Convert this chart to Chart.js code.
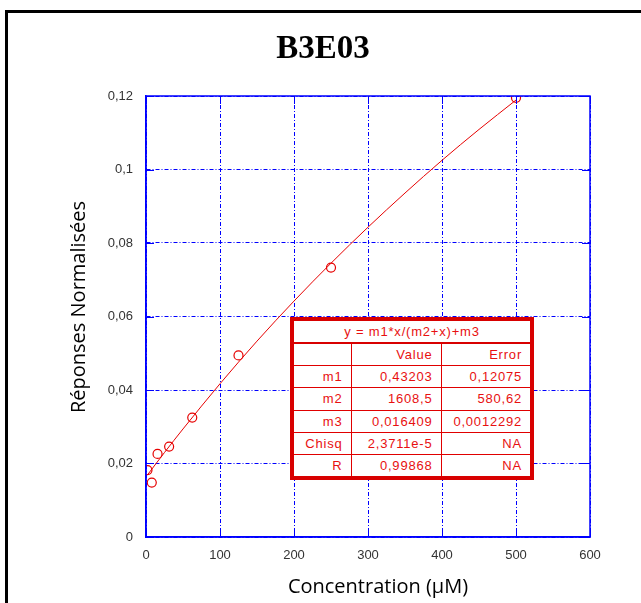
<!DOCTYPE html>
<html>
<head>
<meta charset="utf-8">
<script src="https://cdn.jsdelivr.net/npm/chart.js@4/dist/chart.umd.min.js"></script>
<style>
  html, body { margin: 0; padding: 0; background: #fff; }
  #wrap { position: relative; width: 641px; height: 603px; overflow: hidden; }
  #frame { position: absolute; left: 5px; top: 10px; width: 660px; height: 620px;
           border-left: 3px solid #000; border-top: 3px solid #000; box-sizing: border-box; }
  canvas { position: absolute; left: 0; top: 0; }
  #fit { position: absolute; left: 290px; top: 317px; width: 244px; height: 163px;
         box-sizing: border-box; border: 4px solid #d80000; background: #fff; }
  #fit table { border-collapse: collapse; width: 100%; height: 100%; table-layout: fixed; }
  #fit td { border: 1px solid #e00000; color: #e81010; font: 13px "Liberation Sans", Arial, sans-serif;
            letter-spacing: 0.8px; text-align: right; padding: 0 8px 0 0; height: 21px; white-space: nowrap; }
  #fit td.h { text-align: center; padding: 0; border-bottom: 2px solid #d80000; }
  #fit tr:first-child td { border-top: none; }
  #fit tr td:first-child { border-left: none; }
  #fit tr td:last-child { border-right: none; }
  #fit tr:last-child td { border-bottom: none; }
</style>
</head>
<body>
<div id="wrap">
  <div id="frame"></div>
  <canvas id="c" width="641" height="603"></canvas>
  <div id="fit"></div>
</div>
<script>
// ---- data ----
const chartTitle = "B3E03";
const xTitle = "Concentration (\u00B5M)";
const yTitle = "Réponses Normalisées";
const concentrations = [2, 7.8, 15.6, 31.25, 62.5, 125, 250, 500];
const responses = [0.0182, 0.0148, 0.0226, 0.0246, 0.0325, 0.0494, 0.0733, 0.1195];
const fitX = [2, 25, 50, 100, 150, 200, 250, 300, 350, 400, 450, 500];
const fitY = [0.0169, 0.0230, 0.0294, 0.0417, 0.0533, 0.0642, 0.0745, 0.0843, 0.0936, 0.1025, 0.1109, 0.1189];
const xTicks = [0, 100, 200, 300, 400, 500, 600];
const yTicks = [0, 0.02, 0.04, 0.06, 0.08, 0.1, 0.12];
const fitEquation = "y = m1*x/(m2+x)+m3";
const fitHeader = ["", "Value", "Error"];
const fitNames = ["m1", "m2", "m3", "Chisq", "R"];
const fitValues = ["0,43203", "1608,5", "0,016409", "2,3711e-5", "0,99868"];
const fitErrors = ["0,12075", "580,62", "0,0012292", "NA", "NA"];

// ---- fit table ----
(function () {
  let h = '<table><colgroup><col style="width:57px"><col style="width:90px"><col style="width:89px"></colgroup>';
  h += '<tr><td class="h" colspan="3">' + fitEquation + '</td></tr>';
  h += '<tr>' + fitHeader.map(t => '<td>' + t + '</td>').join('') + '</tr>';
  for (let i = 0; i < fitNames.length; i++) {
    h += '<tr><td>' + fitNames[i] + '</td><td>' + fitValues[i] + '</td><td>' + fitErrors[i] + '</td></tr>';
  }
  h += '</table>';
  document.getElementById('fit').innerHTML = h;
})();

const BLUE = 'rgb(0,0,255)';
const RED = 'rgb(230,0,0)';
const fmt = v => String(parseFloat(Number(v).toFixed(2))).replace('.', ',');

const decor = {
  id: 'decor',
  afterDraw(chart) {
    const ctx = chart.ctx, a = chart.chartArea;
    const xs = chart.scales.x, ys = chart.scales.y;
    ctx.save();
    // solid frame
    ctx.strokeStyle = BLUE; ctx.lineWidth = 1.5; ctx.setLineDash([]);
    ctx.strokeRect(a.left, a.top, a.right - a.left, a.bottom - a.top);
    // inward tick marks
    ctx.lineWidth = 1;
    ctx.beginPath();
    xTicks.forEach(v => {
      const p = Math.round(xs.getPixelForValue(v)) + 0.5;
      ctx.moveTo(p, a.bottom); ctx.lineTo(p, a.bottom - 8);
      ctx.moveTo(p, a.top); ctx.lineTo(p, a.top + 8);
    });
    yTicks.forEach(v => {
      const p = Math.round(ys.getPixelForValue(v)) + 0.5;
      ctx.moveTo(a.left, p); ctx.lineTo(a.left + 8, p);
      ctx.moveTo(a.right, p); ctx.lineTo(a.right - 8, p);
    });
    ctx.stroke();
    // title
    ctx.fillStyle = '#000';
    ctx.textAlign = 'center'; ctx.textBaseline = 'middle';
    ctx.font = 'bold 33px "Liberation Serif", "Times New Roman", serif';
    ctx.fillText(chartTitle, 323, 49);
    // axis titles
    ctx.font = '20px "Open Sans", Lato, sans-serif';
    ctx.fillText(xTitle, 378, 587);
    ctx.translate(79, 307);
    ctx.rotate(-Math.PI / 2);
    ctx.fillText(yTitle, 0, 0);
    ctx.restore();
  }
};

new Chart(document.getElementById('c'), {
  type: 'scatter',
  data: {
    datasets: [
      {
        label: 'fit',
        data: fitX.map((x, i) => ({ x, y: fitY[i] })),
        showLine: true,
        borderColor: RED,
        borderWidth: 1,
        pointRadius: 0,
        cubicInterpolationMode: 'monotone',
        order: 2
      },
      {
        label: 'data',
        data: concentrations.map((x, i) => ({ x, y: responses[i] })),
        pointStyle: 'circle',
        pointRadius: 4.5,
        borderColor: RED,
        backgroundColor: 'rgba(0,0,0,0)',
        borderWidth: 1.2,
        order: 1
      }
    ]
  },
  options: {
    responsive: false,
    animation: false,
    devicePixelRatio: 1,
    layout: { padding: { left: 0, top: 96, right: 51, bottom: 0 } },
    plugins: { legend: { display: false }, tooltip: { enabled: false }, title: { display: false } },
    scales: {
      x: {
        type: 'linear', min: 0, max: 600,
        afterBuildTicks: s => { s.ticks = xTicks.map(v => ({ value: v })); },
        afterFit: s => { s.height = 66; },
        grid: { color: BLUE, lineWidth: 1, drawTicks: false },
        border: { display: true, color: BLUE, width: 1.5, dash: [4, 2, 1, 2] },
        ticks: { color: '#333', padding: 11, font: { family: '"Liberation Sans", Arial', size: 13 }, maxRotation: 0 }
      },
      y: {
        type: 'linear', min: 0, max: 0.12,
        afterBuildTicks: s => { s.ticks = yTicks.map(v => ({ value: v })); },
        afterFit: s => { s.width = 146; },
        grid: { color: BLUE, lineWidth: 1, drawTicks: false },
        border: { display: true, color: BLUE, width: 1.5, dash: [4, 2, 1, 2] },
        ticks: { color: '#333', padding: 13, callback: v => fmt(v), font: { family: '"Liberation Sans", Arial', size: 13 } }
      }
    }
  },
  plugins: [decor]
});
</script>
</body>
</html>
